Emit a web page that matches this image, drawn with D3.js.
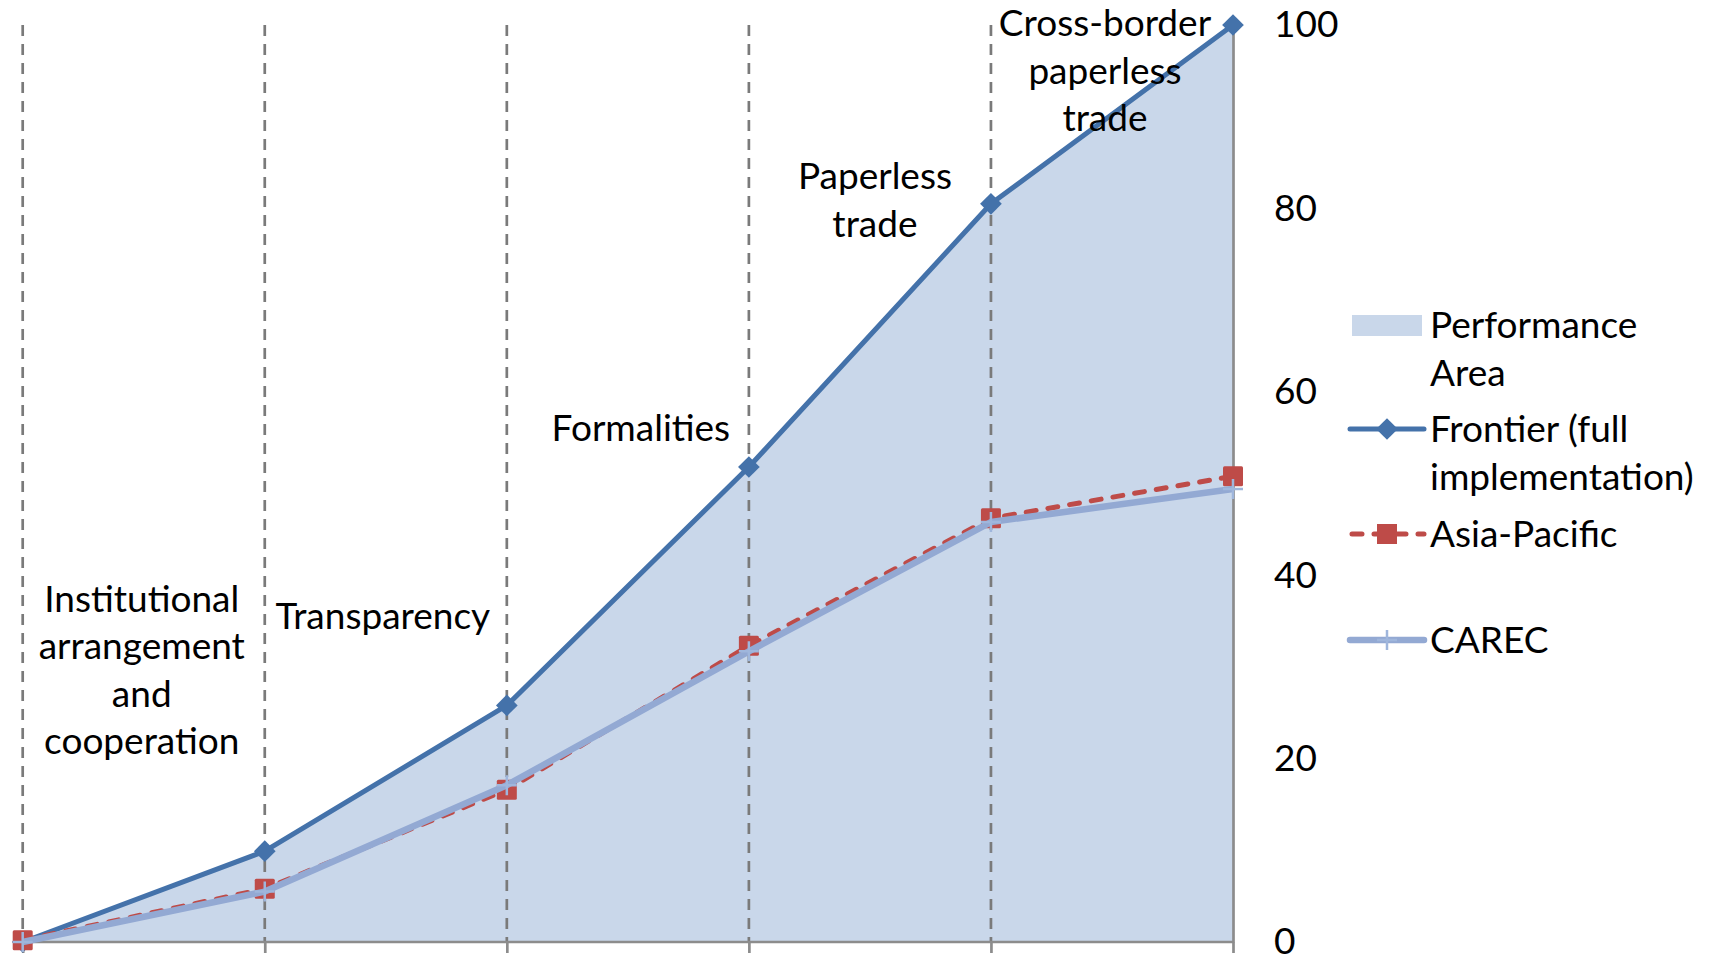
<!DOCTYPE html>
<html>
<head>
<meta charset="utf-8">
<script src="https://cdn.jsdelivr.net/npm/d3@7"></script>
<style>
  html, body { margin: 0; padding: 0; background: #fff; }
  #canvas svg { display: block; font-family: Lato, "Open Sans", sans-serif; }
</style>
</head>
<body>
<div id="canvas"></div>
<script>
//Chart data
let categories = ["Start", "Institutional arrangement and cooperation", "Transparency", "Formalities", "Paperless trade", "Cross-border paperless trade"];
let performanceArea = [0, 9.9, 25.8, 51.8, 80.5, 100];
let frontier = [0, 9.9, 25.8, 51.8, 80.5, 100];
let asiaPacific = [0.2, 5.8, 16.6, 32.3, 46.2, 50.8];
let carec = [0, 5.5, 17.1, 31.7, 45.8, 49.4];
let yTicks = [0, 20, 40, 60, 80, 100];

//Stage names written between the gridlines
let stageLines = [["Institutional", "arrangement", "and", "cooperation"], ["Transparency"], ["Formalities"], ["Paperless", "trade"], ["Cross-border", "paperless", "trade"]];
let stageLabelValue = [36.0, 34.1, 54.6, 82.1, 98.8];

window.onload = function(){
    let width = 1709, height = 958;
    let plot = {left: 22.7, right: 1233, top: 25, bottom: 942};
    let fontSize = 37;

    let svg = d3.select("#canvas").append("svg")
        .attr("width", width)
        .attr("height", height);

    let x = d3.scalePoint().domain(d3.range(categories.length)).range([plot.left, plot.right]);
    let y = d3.scaleLinear().domain([0, 100]).range([plot.bottom, plot.top]);
    let step = x.step();

    //Performance area
    let area = d3.area()
        .x(function(d, i) { return x(i); })
        .y0(y(0))
        .y1(function(d) { return y(d); });

    svg.append("path")
        .datum(performanceArea)
        .attr("d", area)
        .attr("fill", "#c9d7ea");

    //Dashed vertical gridlines at each category
    svg.append("g").selectAll("line")
        .data(categories.slice(0, -1))
        .enter().append("line")
        .attr("x1", function(d, i) { return x(i); })
        .attr("x2", function(d, i) { return x(i); })
        .attr("y1", y(100))
        .attr("y2", y(0))
        .attr("stroke", "#7a7a7a")
        .attr("stroke-width", 2.7)
        .attr("stroke-dasharray", "11,8");

    //Category axis (no labels, just the line and tick marks)
    let xAxis = svg.append("g")
        .attr("transform", "translate(0," + y(0) + ")")
        .call(d3.axisBottom(x).tickSize(11).tickFormat(""));
    xAxis.select(".domain").attr("d", "M" + plot.left + ",0H" + plot.right);
    xAxis.selectAll("line, path").attr("stroke", "#8c8c8c").attr("stroke-width", 2.7);

    //Value axis on the right
    let yAxis = svg.append("g")
        .attr("transform", "translate(" + plot.right + ",0)")
        .call(d3.axisRight(y).tickValues(yTicks).tickSize(0).tickPadding(41));
    yAxis.select(".domain").attr("stroke", "#8c8c8c").attr("stroke-width", 2.7);
    yAxis.selectAll("text")
        .attr("font-family", "Lato, 'Open Sans', sans-serif")
        .attr("font-size", fontSize)
        .attr("fill", "#000");

    let line = d3.line()
        .x(function(d, i) { return x(i); })
        .y(function(d) { return y(d); });

    let diamond = d3.symbol().type(d3.symbolDiamond2).size(300);

    //Frontier
    svg.append("path")
        .datum(frontier)
        .attr("d", line)
        .attr("fill", "none")
        .attr("stroke", "#4472aa")
        .attr("stroke-width", 5)
        .attr("stroke-linejoin", "round");
    svg.append("g").selectAll("path")
        .data(frontier)
        .enter().append("path")
        .attr("d", diamond)
        .attr("transform", function(d, i) { return "translate(" + x(i) + "," + y(d) + ")"; })
        .attr("fill", "#4472aa");

    //Asia-Pacific
    svg.append("path")
        .datum(asiaPacific)
        .attr("d", line)
        .attr("fill", "none")
        .attr("stroke", "#be4b48")
        .attr("stroke-width", 5)
        .attr("stroke-linecap", "round")
        .attr("stroke-dasharray", "10,12");
    svg.append("g").selectAll("rect")
        .data(asiaPacific)
        .enter().append("rect")
        .attr("x", function(d, i) { return x(i) - 10; })
        .attr("y", function(d) { return y(d) - 10; })
        .attr("width", 20)
        .attr("height", 20)
        .attr("rx", 1.5)
        .attr("fill", "#be4b48");

    //CAREC
    let plus = function(cx, cy) {
        return "M" + (cx - 10) + "," + cy + "H" + (cx + 10) + "M" + cx + "," + (cy - 10) + "V" + (cy + 10);
    };
    svg.append("path")
        .datum(carec)
        .attr("d", line)
        .attr("fill", "none")
        .attr("stroke", "#93a9d3")
        .attr("stroke-width", 6.5)
        .attr("stroke-linejoin", "round");
    svg.append("g").selectAll("path")
        .data(carec)
        .enter().append("path")
        .attr("d", function(d, i) { return plus(x(i), y(d)); })
        .attr("stroke", "#9fb6dc")
        .attr("stroke-width", 2.5);

    //Stage names
    let labelShift = [-2, -3, 13, 5, -7];
    let stage = svg.append("g").selectAll("text")
        .data(stageLines)
        .enter().append("text")
        .attr("text-anchor", "middle")
        .attr("font-size", fontSize)
        .attr("fill", "#000")
        .attr("transform", function(d, i) {
            return "translate(" + (x(i) + step / 2 + labelShift[i]) + "," + y(stageLabelValue[i]) + ")";
        });
    stage.selectAll("tspan")
        .data(function(d) { return d; })
        .enter().append("tspan")
        .attr("x", 0)
        .attr("dy", function(d, i) { return i == 0 ? 0 : 47.5; })
        .text(function(d) { return d; });

    //Legend
    let legend = svg.append("g").attr("transform", "translate(1350,0)");
    let textX = 80;

    legend.append("rect")
        .attr("x", 2).attr("y", 315).attr("width", 70).attr("height", 21)
        .attr("fill", "#c9d7ea");
    legend.append("text").attr("x", textX).attr("y", 338).attr("font-size", fontSize)
        .selectAll("tspan").data(["Performance", "Area"]).enter().append("tspan")
        .attr("x", textX).attr("dy", function(d, i) { return i == 0 ? 0 : 48; })
        .text(function(d) { return d; });

    legend.append("line").attr("x1", 0).attr("x2", 74).attr("y1", 429).attr("y2", 429)
        .attr("stroke", "#4472aa").attr("stroke-width", 5).attr("stroke-linecap", "round");
    legend.append("path").attr("d", diamond).attr("transform", "translate(37,429)").attr("fill", "#4472aa");
    legend.append("text").attr("x", textX).attr("y", 442).attr("font-size", fontSize)
        .selectAll("tspan").data(["Frontier (full", "implementation)"]).enter().append("tspan")
        .attr("x", textX).attr("dy", function(d, i) { return i == 0 ? 0 : 48; })
        .text(function(d) { return d; });

    legend.append("line").attr("x1", 2).attr("x2", 74).attr("y1", 534).attr("y2", 534)
        .attr("stroke", "#be4b48").attr("stroke-width", 5).attr("stroke-linecap", "round")
        .attr("stroke-dasharray", "10,12");
    legend.append("rect").attr("x", 27).attr("y", 524).attr("width", 20).attr("height", 20)
        .attr("fill", "#be4b48");
    legend.append("text").attr("x", textX).attr("y", 547).attr("font-size", fontSize).text("Asia-Pacific");

    legend.append("line").attr("x1", 0).attr("x2", 74).attr("y1", 640).attr("y2", 640)
        .attr("stroke", "#93a9d3").attr("stroke-width", 6.5).attr("stroke-linecap", "round");
    legend.append("path").attr("d", plus(37, 640)).attr("stroke", "#9fb6dc").attr("stroke-width", 2.5);
    legend.append("text").attr("x", textX).attr("y", 653).attr("font-size", fontSize).text("CAREC");
}
</script>
</body>
</html>
